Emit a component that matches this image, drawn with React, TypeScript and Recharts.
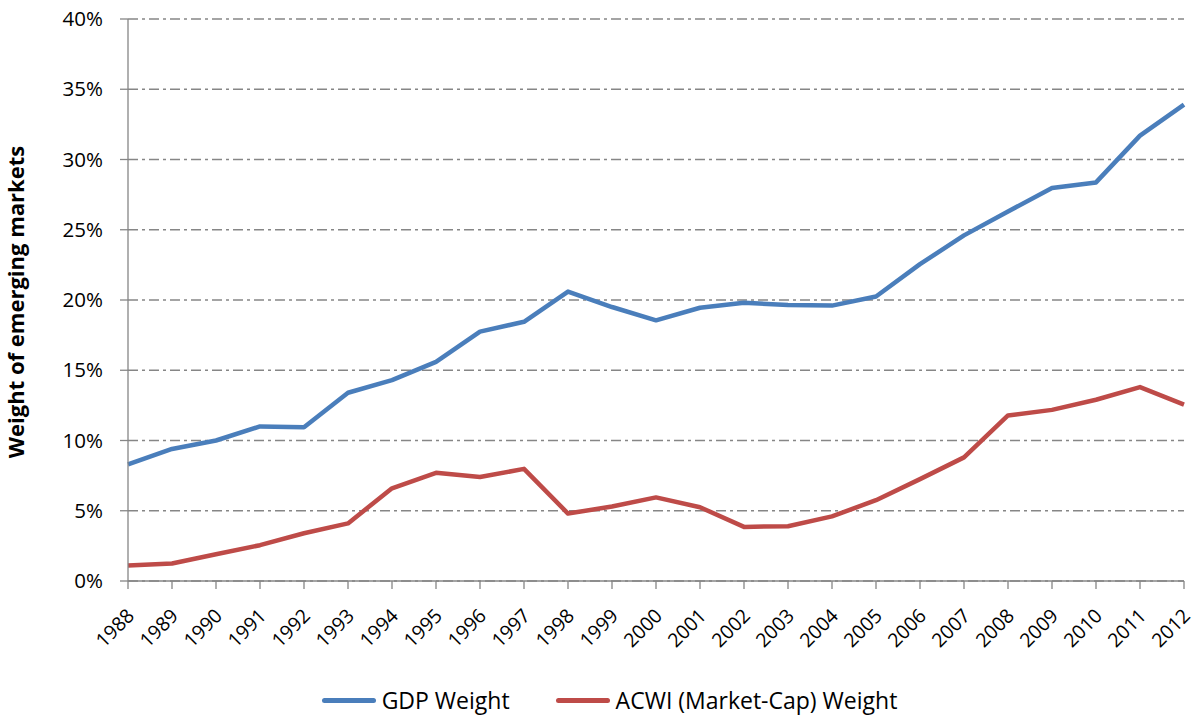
import React from 'react';
import { LineChart, Line, XAxis, YAxis, CartesianGrid, Legend, Label } from 'recharts';

const years = [
  '1988', '1989', '1990', '1991', '1992', '1993', '1994', '1995', '1996', '1997', '1998', '1999',
  '2000', '2001', '2002', '2003', '2004', '2005', '2006', '2007', '2008', '2009', '2010', '2011', '2012',
];
const gdpWeight = [
  8.3, 9.4, 10.0, 11.0, 10.95, 13.4, 14.3, 15.6, 17.75, 18.45, 20.6, 19.5,
  18.55, 19.45, 19.8, 19.65, 19.6, 20.25, 22.55, 24.6, 26.3, 27.97, 28.37, 31.7, 33.9,
];
const acwiWeight = [
  1.1, 1.25, 1.9, 2.55, 3.4, 4.1, 6.6, 7.7, 7.4, 7.98, 4.8, 5.3,
  5.95, 5.25, 3.85, 3.9, 4.6, 5.75, 7.25, 8.8, 11.78, 12.18, 12.9, 13.8, 12.55,
];
const yTicks = [0, 5, 10, 15, 20, 25, 30, 35, 40];
const gdpName = 'GDP Weight';
const acwiName = 'ACWI (Market-Cap) Weight';
const yTitle = 'Weight of emerging markets';

const BLUE = '#4A7EBB';
const RED = '#BE4B48';
const AXIS = '#868686';
const FONT = "'Open Sans', sans-serif";

const data = years.map((year, i) => ({ year, gdp: gdpWeight[i], acwi: acwiWeight[i] }));

const XTick = (props: any) => {
  const { x, y, payload } = props;
  const x0 = x + 7.5;
  const y0 = y + 28;
  return (
    <text
      x={x0}
      y={y0}
      textAnchor="end"
      fontSize={19.5}
      fontFamily={FONT}
      fill="#000"
      transform={`rotate(-45, ${x0}, ${y0})`}
    >
      {payload.value}
    </text>
  );
};

const YTick = (props: any) => {
  const { x, y, payload } = props;
  return (
    <text x={x} y={y} dy={7} textAnchor="end" fontSize={20.5} fontFamily={FONT} fill="#000">
      {`${payload.value}%`}
    </text>
  );
};

const YTitle = (props: any) => {
  const vb = props.viewBox || { x: 0, y: 19, width: 128, height: 562 };
  const x0 = vb.x + 24;
  const y0 = vb.y + vb.height / 2 + 2;
  return (
    <text
      x={x0}
      y={y0}
      textAnchor="middle"
      fontSize={22}
      fontWeight="bold"
      fontFamily={FONT}
      fill="#000"
      transform={`rotate(-90, ${x0}, ${y0})`}
    >
      {yTitle}
    </text>
  );
};

const LegendContent = () => {
  const items = [
    { name: gdpName, color: BLUE },
    { name: acwiName, color: RED },
  ];
  return (
    <div
      style={{
        display: 'flex',
        justifyContent: 'center',
        alignItems: 'center',
        height: 36,
        paddingLeft: 21,
        boxSizing: 'border-box',
        fontFamily: FONT,
        fontSize: 23,
        color: '#000',
      }}
    >
      {items.map((it, i) => (
        <div
          key={it.name}
          style={{ display: 'flex', alignItems: 'center', marginRight: i === 0 ? 46 : 0 }}
        >
          <span
            style={{
              display: 'inline-block',
              width: 54,
              height: 5,
              borderRadius: 3,
              background: it.color,
              marginRight: 6,
            }}
          />
          <span style={{ lineHeight: '36px' }}>{it.name}</span>
        </div>
      ))}
    </div>
  );
};

export default function App() {
  return (
    <div style={{ position: 'absolute', left: 0, top: 0, width: 1198, height: 718, background: '#fff' }}>
      <LineChart
        width={1198}
        height={718}
        data={data}
        margin={{ top: 19, right: 14, left: 0, bottom: 0 }}
        style={{ fontFamily: FONT }}
      >
        <CartesianGrid vertical={false} stroke={AXIS} strokeWidth={1.3} strokeDasharray="10 4 3 4" />
        <XAxis
          dataKey="year"
          interval={0}
          tick={<XTick />}
          tickSize={8}
          tickMargin={0}
          height={101}
          axisLine={{ stroke: AXIS, strokeWidth: 1.3 }}
          tickLine={{ stroke: AXIS, strokeWidth: 1.3 }}
        />
        <YAxis
          width={128}
          domain={[0, 40]}
          ticks={yTicks}
          interval={0}
          tick={<YTick />}
          tickSize={8}
          tickMargin={17}
          axisLine={{ stroke: AXIS, strokeWidth: 1.3 }}
          tickLine={{ stroke: AXIS, strokeWidth: 1.3 }}
        >
          <Label content={<YTitle />} />
        </YAxis>
        <Legend
          verticalAlign="bottom"
          content={<LegendContent />}
          wrapperStyle={{ left: 0, width: 1198 }}
        />
        <Line
          type="linear"
          dataKey="gdp"
          name={gdpName}
          stroke={BLUE}
          strokeWidth={4.5}
          dot={false}
          activeDot={false}
          strokeLinejoin="round"
          isAnimationActive={false}
        />
        <Line
          type="linear"
          dataKey="acwi"
          name={acwiName}
          stroke={RED}
          strokeWidth={4.5}
          dot={false}
          activeDot={false}
          strokeLinejoin="round"
          isAnimationActive={false}
        />
      </LineChart>
    </div>
  );
}
